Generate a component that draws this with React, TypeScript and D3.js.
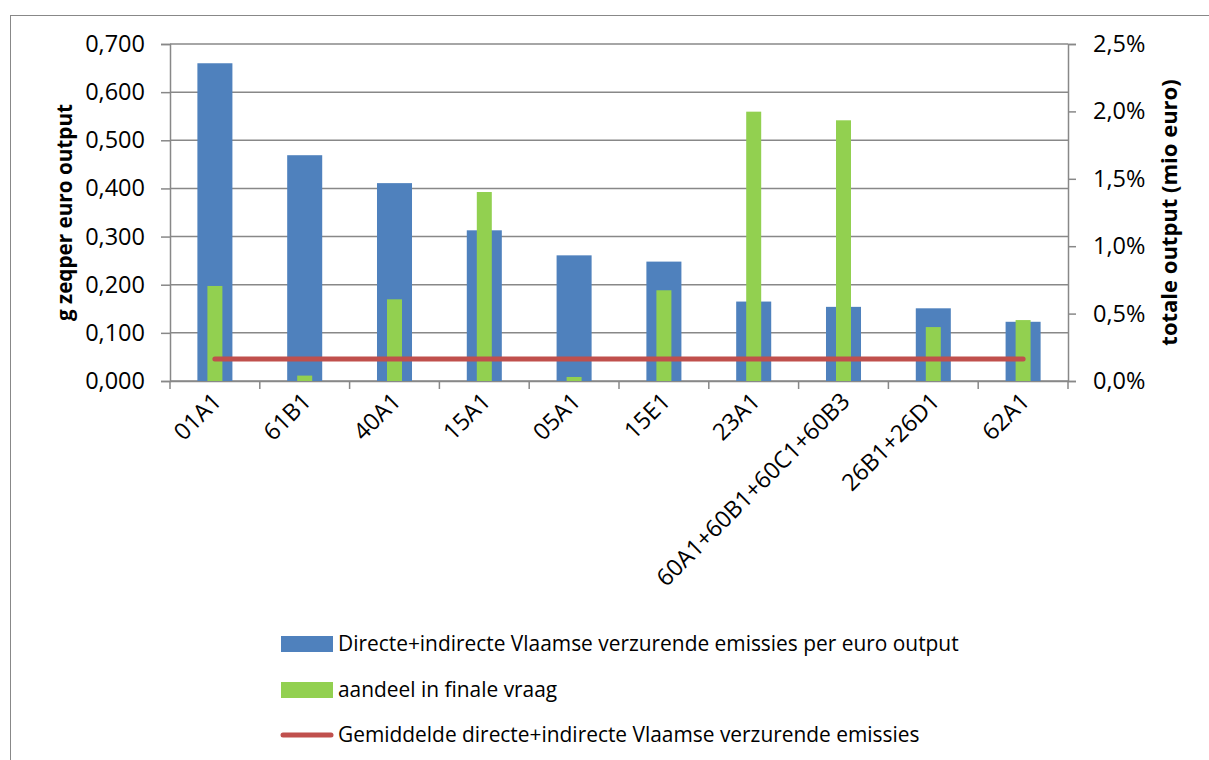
import { useEffect, useRef } from 'react';
import * as d3 from 'd3';

const categories = ['01A1', '61B1', '40A1', '15A1', '05A1', '15E1', '23A1', '60A1+60B1+60C1+60B3', '26B1+26D1', '62A1'];
// g zeq per euro output (left axis)
const emissions = [0.66, 0.469, 0.411, 0.313, 0.261, 0.248, 0.165, 0.154, 0.151, 0.123];
// aandeel in finale vraag (right axis, fraction)
const share = [0.00705, 0.0004, 0.00606, 0.01402, 0.0003, 0.00673, 0.01998, 0.01934, 0.004, 0.00452];
// gemiddelde
const average = 0.0457;

const leftTicks = [0, 0.1, 0.2, 0.3, 0.4, 0.5, 0.6, 0.7];
const rightTicks = [0, 0.005, 0.01, 0.015, 0.02, 0.025];

const legendLabels = [
  'Directe+indirecte Vlaamse verzurende emissies per euro output',
  'aandeel in finale vraag',
  'Gemiddelde directe+indirecte Vlaamse verzurende emissies',
];

const BLUE = '#4F81BD';
const GREEN = '#92D050';
const RED = '#C0504D';
const GRID = '#888888';
const FONT = "'Open Sans', sans-serif";

const W = 1209;
const H = 760;

const nl = d3.formatLocale({ decimal: ',', thousands: '.', grouping: [3], currency: ['€', ''] });
const fmtLeft = nl.format('.3f');
const fmtRight = nl.format('.1%');

export default function App() {
  const svgRef = useRef<SVGSVGElement>(null);

  useEffect(() => {
    if (!svgRef.current) return;
    const svg = d3.select(svgRef.current);
    svg.selectAll('*').remove();

    const left = 170;
    const right = 1068;
    const top = 44;
    const bottom = 381;

    const x = d3.scaleBand<string>().domain(categories).range([left, right]);
    const yL = d3.scaleLinear().domain([0, 0.7]).range([bottom, top]);
    const yR = d3.scaleLinear().domain([0, 0.025]).range([bottom, top]);

    // outer frame
    svg.append('rect')
      .attr('x', 10.5).attr('y', 15.5)
      .attr('width', W + 20).attr('height', H + 20)
      .attr('fill', 'white').attr('stroke', GRID).attr('stroke-width', 1);

    // gridlines
    svg.append('g')
      .selectAll('line')
      .data(leftTicks)
      .enter()
      .append('line')
      .attr('x1', left).attr('x2', right)
      .attr('y1', (d) => yL(d)).attr('y2', (d) => yL(d))
      .attr('stroke', GRID).attr('stroke-width', 1.5);

    // left axis
    const gl = svg.append('g').attr('transform', `translate(${left},0)`)
      .call(d3.axisLeft(yL).tickValues(leftTicks).tickFormat((d) => fmtLeft(d as number)).tickSize(9).tickPadding(16));
    // right axis
    const gr = svg.append('g').attr('transform', `translate(${right},0)`)
      .call(d3.axisRight(yR).tickValues(rightTicks).tickFormat((d) => fmtRight(d as number)).tickSize(8).tickPadding(17));
    // bottom axis, ticks drawn at band edges below
    const gb = svg.append('g').attr('transform', `translate(0,${bottom})`)
      .call(d3.axisBottom(x).tickSize(0).tickPadding(0));
    gb.selectAll('.tick text').remove();

    [gl, gr, gb].forEach((g) => {
      g.select('.domain').attr('stroke', GRID).attr('stroke-width', 1.5);
      g.selectAll('.tick line').attr('stroke', GRID).attr('stroke-width', 1.5);
      g.selectAll('.tick text').attr('fill', '#000').style('font-family', FONT).style('font-size', '23.5px');
    });

    const edges = categories.map((c) => x(c) as number).concat([right]);
    svg.append('g')
      .selectAll('line')
      .data(edges)
      .enter()
      .append('line')
      .attr('x1', (d) => d).attr('x2', (d) => d)
      .attr('y1', bottom).attr('y2', bottom + 8)
      .attr('stroke', GRID).attr('stroke-width', 1.5);

    const bw = x.bandwidth();
    const blueW = bw * 0.39;
    const greenW = bw * 0.167;
    const cx = (c: string) => (x(c) as number) + bw / 2;

    // blue bars
    svg.append('g')
      .selectAll('rect')
      .data(categories)
      .enter()
      .append('rect')
      .attr('x', (c) => cx(c) - blueW / 2)
      .attr('y', (c, i) => yL(emissions[i]))
      .attr('width', blueW)
      .attr('height', (c, i) => bottom - yL(emissions[i]))
      .attr('fill', BLUE);

    // green bars
    svg.append('g')
      .selectAll('rect')
      .data(categories)
      .enter()
      .append('rect')
      .attr('x', (c) => cx(c) - greenW / 2)
      .attr('y', (c, i) => yR(share[i]))
      .attr('width', greenW)
      .attr('height', (c, i) => bottom - yR(share[i]))
      .attr('fill', GREEN);

    // average line
    const line = d3.line<string>().x((c) => cx(c)).y(() => yL(average));
    svg.append('path')
      .attr('d', line([categories[0], categories[categories.length - 1]]) || '')
      .attr('stroke', RED).attr('stroke-width', 5).attr('stroke-linecap', 'round').attr('fill', 'none');

    // category labels
    svg.append('g')
      .selectAll('text')
      .data(categories)
      .enter()
      .append('text')
      .attr('transform', (c) => `translate(${cx(c) + 2},${bottom + 16}) rotate(-45)`)
      .attr('text-anchor', 'end')
      .attr('dy', '0.35em')
      .style('font-family', FONT)
      .style('font-size', '23.5px')
      .text((c) => c);

    // axis titles
    svg.append('text')
      .attr('transform', `translate(72,${(top + bottom) / 2 + 0}) rotate(-90)`)
      .attr('text-anchor', 'middle')
      .style('font-family', FONT).style('font-size', '20.7px').style('font-weight', 'bold')
      .text('g zeqper euro output');
    svg.append('text')
      .attr('transform', `translate(1177,${(top + bottom) / 2}) rotate(-90)`)
      .attr('text-anchor', 'middle')
      .style('font-family', FONT).style('font-size', '22px').style('font-weight', 'bold')
      .text('totale output (mio euro)');

    // legend
    const legendY = [644, 690, 735];
    const lg = svg.append('g');
    lg.append('rect').attr('x', 281).attr('y', legendY[0] - 8).attr('width', 52).attr('height', 16).attr('fill', BLUE);
    lg.append('rect').attr('x', 281).attr('y', legendY[1] - 8).attr('width', 52).attr('height', 16).attr('fill', GREEN);
    lg.append('line').attr('x1', 283).attr('x2', 331).attr('y1', legendY[2]).attr('y2', legendY[2])
      .attr('stroke', RED).attr('stroke-width', 5).attr('stroke-linecap', 'round');
    lg.selectAll('text')
      .data(legendLabels)
      .enter()
      .append('text')
      .attr('x', 338)
      .attr('y', (d, i) => legendY[i])
      .attr('dy', '0.35em')
      .style('font-family', FONT)
      .style('font-size', '20.9px')
      .text((d) => d);
  }, []);

  return (
    <svg
      ref={svgRef}
      width={W}
      height={H}
      style={{ position: 'absolute', left: 0, top: 0, background: 'white' }}
    />
  );
}
